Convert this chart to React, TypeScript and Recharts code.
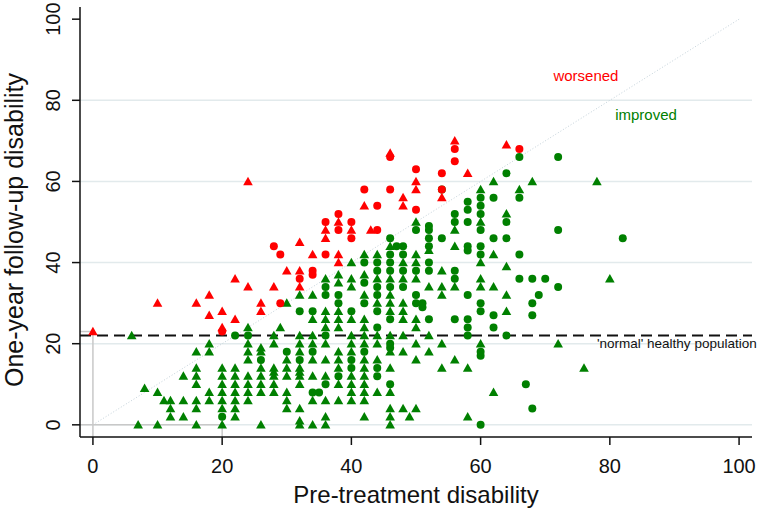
import { ScatterChart, Scatter, XAxis, YAxis, ReferenceLine, ReferenceDot, Label } from 'recharts';

const xTicks = [0, 20, 40, 60, 80, 100];
const yTicks = [0, 20, 40, 60, 80, 100];
const gridLevels = [0, 20, 40, 60, 80];
const normalLevel = 22;

// worsened (red), circles and triangles
const worsenedCircles: [number, number][] = [
  [20, 23], [29, 30], [28, 44], [29, 42], [32, 36], [34, 38], [34, 37], [36, 50], [36, 42],
  [38, 52], [38, 48], [40, 50], [40, 46], [42, 58], [44, 54], [44, 48], [46, 66], [46, 58],
  [50, 63], [50, 53], [54, 62], [54, 58], [56, 68], [56, 65], [66, 68],
];
const worsenedTriangles: [number, number][] = [
  [0, 23], [10, 30], [16, 30], [18, 32], [18, 27], [20, 28], [20, 24], [22, 26], [22, 36],
  [24, 34], [24, 60], [26, 30], [26, 28], [28, 34], [30, 38], [32, 45], [32, 38], [32, 34],
  [34, 42], [36, 48], [36, 46], [38, 50], [38, 42], [38, 40], [40, 48], [42, 54], [43, 48],
  [46, 67], [48, 56], [48, 54], [50, 60], [50, 58], [54, 56], [56, 70], [58, 62], [64, 69],
];

// improved (green), circles and triangles
const improvedCircles: [number, number][] = [
  [20, 2], [22, 22], [24, 22], [26, 16], [30, 18],
  [32, 28], [32, 16], [34, 28], [34, 18], [34, 8], [35, 8],
  [36, 34], [36, 32], [36, 22], [36, 10], [38, 32], [38, 30], [38, 12],
  [40, 28], [40, 16], [40, 14], [42, 40], [42, 35], [42, 30], [42, 18],
  [44, 40], [44, 38], [44, 34], [44, 32], [44, 28], [44, 24], [44, 14], [44, 12],
  [46, 46], [46, 42], [46, 40], [46, 38], [46, 34], [46, 26], [46, 20], [46, 19], [46, 10],
  [47, 44], [48, 44], [48, 42], [48, 38], [48, 34],
  [50, 48], [50, 38], [50, 32], [50, 30], [51, 30], [51, 29],
  [52, 49], [52, 48], [52, 46], [52, 44], [52, 40], [52, 38], [52, 26],
  [54, 46], [54, 58], [56, 52], [56, 50], [56, 38], [56, 36], [56, 26],
  [58, 55], [58, 53], [58, 50], [58, 44], [58, 43], [58, 32], [58, 26], [58, 24], [58, 22],
  [60, 56], [60, 54], [60, 52], [60, 48], [60, 44], [60, 42], [60, 30], [60, 28], [60, 18], [60, 17], [60, 0],
  [62, 56], [62, 46], [62, 27], [62, 24], [64, 62], [64, 50], [64, 46], [64, 22],
  [66, 66], [66, 56], [66, 42], [66, 36], [67, 10], [68, 36], [68, 30], [68, 27], [68, 4],
  [69, 32], [70, 36], [72, 66], [72, 48], [72, 34], [82, 46],
];
const improvedTriangles: [number, number][] = [
  [6, 22], [7, 0], [8, 9], [10, 8], [10, 0], [11, 6], [12, 6], [12, 4], [12, 2],
  [14, 12], [14, 6], [14, 2],
  [16, 18], [16, 14], [16, 12], [16, 10], [16, 6], [16, 4], [16, 0],
  [18, 20], [18, 18], [18, 8], [18, 6],
  [20, 14], [20, 12], [20, 10], [20, 8], [20, 6], [20, 4], [20, 0],
  [22, 14], [22, 12], [22, 10], [22, 8], [22, 6], [22, 4], [22, 2],
  [24, 24], [24, 20], [24, 18], [24, 16], [24, 12], [24, 10], [24, 8], [24, 6],
  [26, 19], [26, 18], [26, 14], [26, 12], [26, 10], [26, 8], [26, 0],
  [28, 22], [28, 20], [28, 14], [28, 13], [28, 12], [28, 10], [28, 8], [29, 24],
  [30, 30], [30, 16], [30, 14], [30, 12], [30, 8], [30, 6], [30, 4],
  [32, 32], [32, 22], [32, 20], [32, 18], [32, 14], [32, 13], [32, 12], [32, 10], [32, 4], [32, 1], [32, 0],
  [34, 32], [34, 26], [34, 22], [34, 20], [34, 16], [34, 12], [34, 6], [34, 0],
  [36, 36], [36, 28], [36, 26], [36, 24], [36, 20], [36, 16], [36, 12], [36, 6], [36, 2], [36, 0],
  [38, 37], [38, 35], [38, 28], [38, 26], [38, 24], [38, 18], [38, 16], [38, 14], [38, 10], [38, 6],
  [40, 40], [40, 36], [40, 34], [40, 26], [40, 22], [40, 20], [40, 18], [40, 12], [40, 10], [40, 8], [40, 6],
  [42, 42], [42, 37], [42, 32], [42, 26], [42, 24], [42, 22], [42, 20], [42, 16], [42, 14], [42, 12], [42, 10], [42, 8], [42, 6], [42, 2],
  [44, 42], [44, 36], [44, 30], [44, 22], [44, 20], [44, 16], [44, 8],
  [46, 44], [46, 36], [46, 32], [46, 30], [46, 28], [46, 22], [46, 18], [46, 14], [46, 8], [46, 4], [46, 2], [46, 0],
  [48, 40], [48, 36], [48, 30], [48, 28], [48, 26], [48, 22], [48, 18], [48, 4], [49, 2],
  [50, 50], [50, 42], [50, 40], [50, 36], [50, 26], [50, 24], [50, 20], [50, 16], [50, 4],
  [52, 43], [52, 34], [52, 22], [52, 18],
  [54, 38], [54, 34], [54, 32], [54, 20], [54, 14],
  [56, 48], [56, 44], [56, 34], [56, 16], [58, 14], [58, 2],
  [60, 58], [60, 50], [60, 40], [60, 36], [60, 34], [60, 20],
  [62, 60], [62, 42], [62, 34], [62, 8], [64, 52], [64, 39], [64, 32], [64, 28],
  [66, 58], [68, 60], [72, 20], [76, 14], [78, 60], [80, 36],
];

const toPoints = (arr: [number, number][]) => arr.map(([x, y]) => ({ x, y }));

const RED = '#ff0000';
const GREEN = '#008000';
const FONT = '"Liberation Sans", Arial, Helvetica, sans-serif';

const circle = (color: string) => (props: any) => (
  <circle cx={props.cx} cy={props.cy} r={4} fill={color} />
);
const triangle = (color: string) => (props: any) => {
  const { cx, cy } = props;
  return <polygon points={`${cx},${cy - 4.8} ${cx - 4.8},${cy + 3.7} ${cx + 4.8},${cy + 3.7}`} fill={color} />;
};

const note = (text: string, color: string, size: number, anchor: 'start' | 'middle') => (props: any) => {
  const vb = props.viewBox || {};
  return (
    <text x={vb.x} y={vb.y} textAnchor={anchor} dominantBaseline="central" fontSize={size} fill={color} fontFamily={FONT}>
      {text}
    </text>
  );
};

const XTick = (props: any) => (
  <text x={props.x} y={473} textAnchor="middle" fontSize={20} fill="#111" fontFamily={FONT}>
    {props.payload.value}
  </text>
);
const YTick = (props: any) => (
  <text x={60} y={props.y} transform={`rotate(-90 60 ${props.y})`} textAnchor="middle" fontSize={20} fill="#111" fontFamily={FONT}>
    {props.payload.value}
  </text>
);

export default function App() {
  return (
    <div style={{ position: 'absolute', left: 0, top: 0, width: 774, height: 519, background: '#fff' }}>
      <ScatterChart width={774} height={519} margin={{ top: 7, right: 22, bottom: 0, left: 0 }}>
        <XAxis
          type="number"
          dataKey="x"
          domain={[-2, 102]}
          ticks={xTicks}
          tickSize={8}
          height={82}
          stroke="#111"
          strokeWidth={1.5}
          tick={XTick}
          interval={0}
        >
          <Label
            content={(p: any) => (
              <text x={p.viewBox.x + p.viewBox.width / 2} y={503} textAnchor="middle" fontSize={24} fill="#111" fontFamily={FONT}>
                Pre-treatment disability
              </text>
            )}
          />
        </XAxis>
        <YAxis
          type="number"
          dataKey="y"
          domain={[-3, 103]}
          ticks={yTicks}
          tickSize={8}
          width={80}
          stroke="#111"
          strokeWidth={1.5}
          tick={YTick}
          interval={0}
        >
          <Label
            content={(p: any) => {
              const cy = p.viewBox.y + p.viewBox.height / 2 + 8;
              return (
                <text x={23} y={cy} transform={`rotate(-90 23 ${cy})`} textAnchor="middle" fontSize={25} fill="#111" fontFamily={FONT}>
                  One-year follow-up disability
                </text>
              );
            }}
          />
        </YAxis>

        {gridLevels.map((v) => (
          <ReferenceLine key={v} y={v} stroke="#e2eaec" strokeWidth={1.5} />
        ))}
        <ReferenceLine segment={[{ x: 0, y: 0 }, { x: 100, y: 100 }]} stroke="#c4d2da" strokeWidth={1} strokeDasharray="1 2" />
        <ReferenceLine segment={[{ x: -2, y: 23 }, { x: 0, y: 23 }]} stroke="#c8c8c8" strokeWidth={1.5} />
        <ReferenceLine segment={[{ x: 0, y: 23 }, { x: 0, y: -3 }]} stroke="#c8c8c8" strokeWidth={1.5} />
        <ReferenceLine segment={[{ x: -2, y: 0 }, { x: 20, y: 0 }]} stroke="#c8c8c8" strokeWidth={1.5} />
        <ReferenceLine segment={[{ x: 20, y: 0 }, { x: 20, y: -3 }]} stroke="#c8c8c8" strokeWidth={1.5} />
        <ReferenceLine y={normalLevel} stroke="#111" strokeWidth={2} strokeDasharray="11 6" />

        <ReferenceDot x={76.3} y={86} r={0} stroke="none" label={note('worsened', RED, 15, 'middle')} />
        <ReferenceDot x={85.6} y={76.4} r={0} stroke="none" label={note('improved', GREEN, 15, 'middle')} />
        <ReferenceDot x={78} y={20} r={0} stroke="none" label={note("'normal' healthy population", '#111', 13.5, 'start')} />

        <Scatter data={toPoints(improvedTriangles)} shape={triangle(GREEN)} isAnimationActive={false} />
        <Scatter data={toPoints(improvedCircles)} shape={circle(GREEN)} isAnimationActive={false} />
        <Scatter data={toPoints(worsenedTriangles)} shape={triangle(RED)} isAnimationActive={false} />
        <Scatter data={toPoints(worsenedCircles)} shape={circle(RED)} isAnimationActive={false} />
      </ScatterChart>
    </div>
  );
}
